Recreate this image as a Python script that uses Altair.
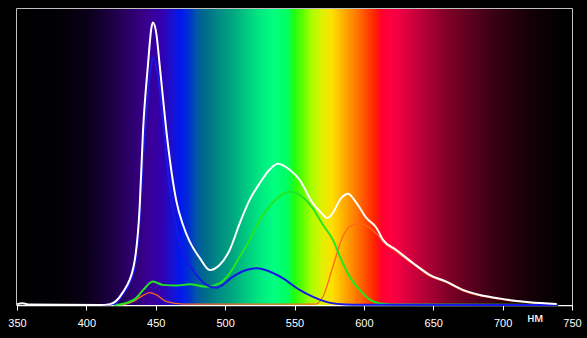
import altair as alt
import pandas as pd

# ---- data ----
white_nm = [350, 354, 358, 410, 417, 426, 434, 438.4, 440.8, 444.4, 446.9, 448, 450.5, 452.8,
            455.2, 457.7, 460, 462.4, 464.9, 469.6, 474.5, 481.7, 488.9, 496, 503.3, 510.5,
            517.7, 525, 532, 538, 546.5, 553.7, 563, 570, 573, 576,
            583.8, 588.6, 594.6, 601.8, 609, 613.8, 623.4, 635.4, 647.4, 659.5, 671.4,
            683.5, 695.5, 707.5, 719.5, 739]
white_val = [0.3, 0.6, 0.2, 0, 0.3, 4.1, 12.9, 33, 58.6, 81.2, 93.7, 95.4, 91.4, 81.2,
             70, 58.6, 49.7, 41.7, 35, 27.1, 21.4, 15.9, 11.8, 13.5, 18.6, 27.6,
             35.5, 41.2, 45.7, 47.7, 45.7, 42.3, 34.5, 30.8, 29.4, 30.1,
             36.2, 37.6, 34.5, 29.4, 26.1, 22, 18.6, 14.2, 10.2, 7.9, 5.1,
             3.4, 2.4, 1.5, 0.9, 0.3]

blue_nm = [410, 420, 426, 434, 438.4, 440.8, 444.4, 446.5, 448, 451, 453, 455.2, 457.7, 460,
           462.4, 464.9, 466, 469.6, 472, 479.3, 486.5, 493.7, 496, 505.7, 515.3, 522.5,
           532, 541.7, 553.7, 563, 575, 587, 600, 740]
blue_val = [0, 0.3, 3.5, 11, 29, 49, 71, 80, 83.6, 79, 72, 62, 50, 40,
            32, 26, 23.5, 18.5, 15.5, 10.2, 6.8, 5.8, 6.2, 9.6, 11.8, 12.4,
            11.3, 9, 5.1, 2.8, 0.8, 0.2, 0.1, 0]

green_nm = [420, 424, 435, 441, 448, 455, 465, 474.5, 486.5, 496, 503.3, 510.5, 517.7, 525,
            532, 539, 546.5, 553.7, 563, 570.5, 577.7, 583.8, 589.8, 597, 604, 611, 620, 740]
green_val = [0, 0.2, 2, 5.1, 7.9, 6.8, 6.6, 7, 6.2, 7.3, 10.7, 16.3, 22, 28.8,
             33.3, 36.6, 38.3, 37.2, 32.8, 27.1, 22.0, 15.2, 9.5, 5.1, 1.9, 0.6, 0.2, 0]

red_nm = [425, 435, 440, 445.6, 450.5, 457.7, 470, 565, 570.5, 577.7, 583.8, 589.8, 597, 604,
          611, 613.8, 623.4, 635.4, 647.4, 659.5, 671.4, 683.5, 695.5, 707.5, 719.5, 739]
red_val = [0, 1.5, 3, 4.2, 3.4, 1.1, 0.3, 0.3, 2.8, 13.0, 22.0, 26.5, 27.6, 26.1,
           23.1, 21.4, 18.0, 13.8, 9.8, 7.6, 4.8, 3.2, 2.2, 1.3, 0.8, 0.2]

# spectrum background stops
spec_nm = [350, 380, 400, 420, 435, 445, 455, 462, 468, 474, 480, 487, 495, 505, 515, 525,
           535, 545, 550, 556, 562, 570, 577, 585, 592, 600, 608, 613, 620, 630, 645, 660,
           675, 690, 705, 720, 735, 750]
spec_col = ["#000000", "#020005", "#0a0018", "#1e0045", "#300075", "#3a0095", "#3000b0",
            "#1a10d0", "#0018f0", "#0030d0", "#005aa0", "#006f88", "#008a85", "#00a580",
            "#00c880", "#00e880", "#00ff80", "#00ff60", "#20ff10", "#60ff00", "#a8ff00",
            "#e0f000", "#ffe000", "#ffb000", "#ff8800", "#ff5500", "#ff2200", "#ff0030",
            "#ff0040", "#e00040", "#b00035", "#800028", "#600020", "#400015", "#28000c",
            "#140006", "#080002", "#000000"]

x_ticks = [350, 400, 450, 500, 550, 600, 650, 700, 750]
x_min, x_max = 350, 750
unit_label = "нм"
unit_nm = 723.5

series = [("red", red_nm, red_val), ("green", green_nm, green_val),
          ("blue", blue_nm, blue_val), ("white", white_nm, white_val)]
colors = {"red": "#ff6422", "green": "#22e622", "blue": "#1818e6", "white": "#ffffff"}
widths = {"red": 1.3, "green": 2, "blue": 2, "white": 2}

xscale = alt.Scale(domain=[x_min, x_max], nice=False, zero=False)
yscale = alt.Scale(domain=[0, 100], nice=False, zero=True)

stops = [alt.GradientStop(offset=(w - x_min) / (x_max - x_min), color=c)
         for w, c in zip(spec_nm, spec_col)]

bg_df = pd.DataFrame({"x": [x_min], "x2": [x_max], "y": [0], "y2": [100]})
bg = alt.Chart(bg_df).mark_rect(
    fill=alt.Gradient(gradient="linear", stops=stops, x1=0, x2=1, y1=0, y2=0)
).encode(
    x=alt.X("x:Q", scale=xscale,
            axis=alt.Axis(values=x_ticks, title=None, grid=False, labelColor="white",
                          labelFont="Liberation Sans", labelFontSize=11, tickColor="white",
                          tickSize=5, tickWidth=1, domainColor="white", domainWidth=1.5,
                          labelPadding=7, labelFlush=False)),
    x2="x2:Q",
    y=alt.Y("y:Q", scale=yscale, axis=None),
    y2="y2:Q",
)

layers = [bg]
for name, nm, val in series:
    df = pd.DataFrame({"nm": nm, "v": val})
    layers.append(
        alt.Chart(df).mark_line(color=colors[name], strokeWidth=widths[name],
                                interpolate="monotone").encode(
            x=alt.X("nm:Q", scale=xscale),
            y=alt.Y("v:Q", scale=yscale),
        )
    )

lab_df = pd.DataFrame({"nm": [unit_nm], "t": [unit_label]})
layers.append(
    alt.Chart(lab_df).mark_text(color="white", fontSize=13, font="Liberation Sans",
                                baseline="middle", align="center").encode(
        x=alt.X("nm:Q", scale=xscale), y=alt.value(309), text="t:N")
)

chart = alt.layer(*layers).properties(
    width=555, height=296,
    autosize=alt.AutoSizeParams(type="none"),
    padding={"left": 17, "top": 9, "right": 15, "bottom": 33},
    background="black",
).configure_view(stroke="white", strokeWidth=1.5)

chart.save("out.html", embed_options={"renderer": "svg", "actions": False})
